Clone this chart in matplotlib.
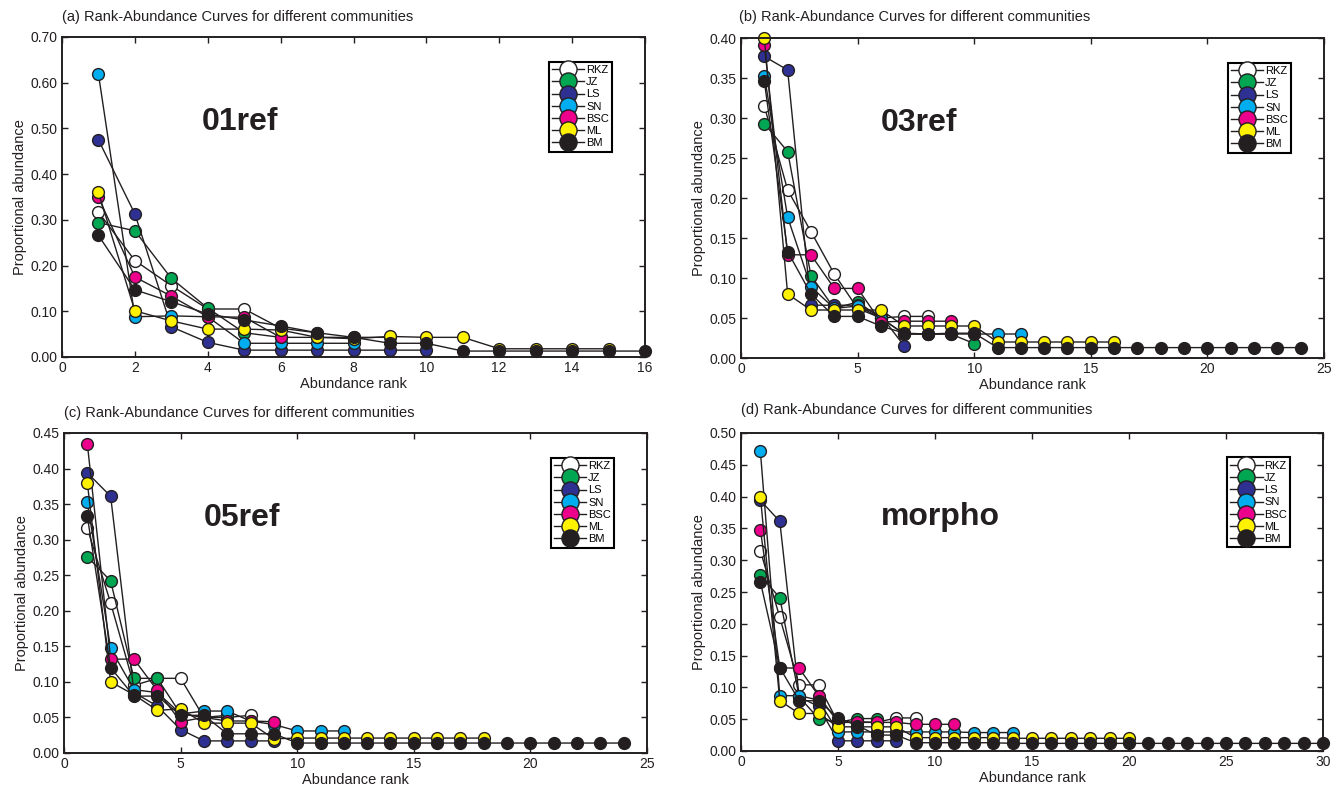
import matplotlib
matplotlib.use("Agg")
import matplotlib.pyplot as plt

plt.rcParams['font.family'] = ['Liberation Sans', 'DejaVu Sans']

W, H = 1342, 791

communities = ["RKZ", "JZ", "LS", "SN", "BSC", "ML", "BM"]
colors = ["#FFFFFF", "#00A651", "#2E3192", "#00AEEF", "#EC008C", "#FFF200", "#231F20"]

# ---- panel (a) 01ref ----
a_RKZ = [0.317, 0.211, 0.156, 0.105, 0.105, 0.063, 0.053]
a_JZ = [0.294, 0.276, 0.172, 0.107, 0.053, 0.043]
a_LS = [0.475, 0.313, 0.066, 0.032, 0.015, 0.015, 0.015, 0.015, 0.015, 0.015]
a_SN = [0.619, 0.088, 0.090, 0.088, 0.030, 0.030, 0.030, 0.030]
a_BSC = [0.349, 0.175, 0.133, 0.088, 0.087, 0.043, 0.043, 0.043, 0.043]
a_ML = [0.360, 0.101, 0.079, 0.061, 0.061, 0.059, 0.043, 0.040, 0.045, 0.043, 0.043,
        0.018, 0.018, 0.018, 0.018]
a_BM = [0.266, 0.147, 0.121, 0.094, 0.081, 0.068, 0.053, 0.043, 0.030, 0.030, 0.013,
        0.013, 0.013, 0.013, 0.013, 0.013]

# ---- panel (b) 03ref ----
b_RKZ = [0.315, 0.210, 0.158, 0.105, 0.062, 0.050, 0.052, 0.052]
b_JZ = [0.293, 0.258, 0.103, 0.062, 0.070, 0.050, 0.030, 0.030, 0.030, 0.018]
b_LS = [0.377, 0.360, 0.066, 0.066, 0.066, 0.053, 0.015]
b_SN = [0.353, 0.176, 0.089, 0.062, 0.065, 0.050, 0.030, 0.030, 0.030, 0.030, 0.030, 0.030]
b_BSC = [0.391, 0.129, 0.129, 0.087, 0.087, 0.045, 0.046, 0.046, 0.046]
b_ML = [0.400, 0.080, 0.060, 0.060, 0.060, 0.060, 0.040, 0.040, 0.040, 0.040, 0.020,
        0.020, 0.020, 0.020, 0.020, 0.020]
b_BM = [0.346, 0.133, 0.080, 0.052, 0.052, 0.040, 0.031, 0.030, 0.031, 0.031, 0.013,
        0.013, 0.013, 0.013, 0.013, 0.013, 0.013, 0.013, 0.013, 0.013, 0.013, 0.013,
        0.013, 0.013]

# ---- panel (c) 05ref ----
c_RKZ = [0.316, 0.211, 0.095, 0.105, 0.105, 0.050, 0.050, 0.053]
c_JZ = [0.276, 0.242, 0.105, 0.105, 0.055, 0.050, 0.053]
c_LS = [0.394, 0.361, 0.085, 0.066, 0.033, 0.017, 0.017, 0.017, 0.017]
c_SN = [0.353, 0.147, 0.089, 0.085, 0.055, 0.059, 0.059, 0.045, 0.040, 0.031, 0.031, 0.031]
c_BSC = [0.435, 0.132, 0.132, 0.088, 0.044, 0.050, 0.045, 0.045, 0.044]
c_ML = [0.380, 0.100, 0.082, 0.060, 0.062, 0.042, 0.042, 0.042, 0.020, 0.021, 0.021,
        0.021, 0.021, 0.021, 0.021, 0.021, 0.021, 0.021]
c_BM = [0.333, 0.120, 0.080, 0.080, 0.053, 0.053, 0.027, 0.027, 0.027, 0.014, 0.014,
        0.014, 0.014, 0.014, 0.014, 0.014, 0.014, 0.014, 0.014, 0.014, 0.014, 0.014,
        0.014, 0.014]

# ---- panel (d) morpho ----
d_RKZ = [0.315, 0.210, 0.104, 0.104, 0.045, 0.045, 0.045, 0.052, 0.052]
d_JZ = [0.276, 0.241, 0.085, 0.051, 0.045, 0.051, 0.051]
d_LS = [0.394, 0.361, 0.085, 0.070, 0.016, 0.016, 0.016, 0.016]
d_SN = [0.471, 0.087, 0.087, 0.080, 0.030, 0.030, 0.030, 0.030, 0.030, 0.030, 0.030,
        0.029, 0.029, 0.029]
d_BSC = [0.348, 0.131, 0.130, 0.087, 0.045, 0.046, 0.045, 0.045, 0.042, 0.042, 0.042]
d_ML = [0.400, 0.079, 0.059, 0.059, 0.038, 0.038, 0.038, 0.038, 0.021, 0.021, 0.021,
        0.021, 0.021, 0.020, 0.020, 0.020, 0.020, 0.020, 0.020, 0.020]
d_BM = [0.266, 0.131, 0.079, 0.079, 0.052, 0.040, 0.025, 0.025, 0.013, 0.013, 0.013,
        0.013, 0.013, 0.012, 0.012, 0.012, 0.012, 0.012, 0.012, 0.012, 0.012, 0.012,
        0.012, 0.012, 0.012, 0.012, 0.012, 0.012, 0.012, 0.012]

panels = [
    dict(series=[a_RKZ, a_JZ, a_LS, a_SN, a_BSC, a_ML, a_BM], name="01ref",
         title="(a) Rank-Abundance Curves for different communities",
         xlim=(0, 16), xticks=list(range(0, 17, 2)),
         ylim=(0, 0.70), yticks=[i * 0.1 for i in range(8)],
         box=(62, 37, 645, 357), title_xy=(62, 17)),
    dict(series=[b_RKZ, b_JZ, b_LS, b_SN, b_BSC, b_ML, b_BM], name="03ref",
         title="(b) Rank-Abundance Curves for different communities",
         xlim=(0, 25), xticks=list(range(0, 26, 5)),
         ylim=(0, 0.40), yticks=[i * 0.05 for i in range(9)],
         box=(741, 38, 1324, 358), title_xy=(739, 17)),
    dict(series=[c_RKZ, c_JZ, c_LS, c_SN, c_BSC, c_ML, c_BM], name="05ref",
         title="(c) Rank-Abundance Curves for different communities",
         xlim=(0, 25), xticks=list(range(0, 26, 5)),
         ylim=(0, 0.45), yticks=[i * 0.05 for i in range(10)],
         box=(64, 433, 647, 753), title_xy=(64, 413)),
    dict(series=[d_RKZ, d_JZ, d_LS, d_SN, d_BSC, d_ML, d_BM], name="morpho",
         title="(d) Rank-Abundance Curves for different communities",
         xlim=(0, 30), xticks=list(range(0, 31, 5)),
         ylim=(0, 0.50), yticks=[i * 0.05 for i in range(11)],
         box=(741, 433, 1323, 751), title_xy=(741, 410)),
]

dark = "#231F20"
fig = plt.figure(figsize=(W / 100, H / 100), dpi=100)

for p in panels:
    l, t, r, b = p["box"]
    ax = fig.add_axes([l / W, 1 - b / H, (r - l) / W, (b - t) / H])
    for vals, lab, col in zip(p["series"], communities, colors):
        ranks = list(range(1, len(vals) + 1))
        ax.plot(ranks, vals, "-o", color=dark, lw=1.0, markersize=8.5,
                markerfacecolor=col, markeredgecolor=dark, markeredgewidth=1.0,
                label=lab, clip_on=False)
    ax.set_xlim(*p["xlim"])
    ax.set_ylim(*p["ylim"])
    ax.set_xticks(p["xticks"])
    ax.set_yticks(p["yticks"])
    ax.set_yticklabels([f"{v:.2f}" for v in p["yticks"]])
    ax.tick_params(direction="in", top=True, right=True, length=4, width=1,
                   labelsize=10, pad=3, colors=dark)
    for s in ax.spines.values():
        s.set_linewidth(1.4)
        s.set_color(dark)
    ax.set_xlabel("Abundance rank", fontsize=10.5, labelpad=1, color=dark)
    ax.set_ylabel("Proportional abundance", fontsize=10.5, labelpad=3, color=dark)
    ax.text(0.24, 0.735, p["name"], transform=ax.transAxes, ha="left", va="center",
            fontsize=23, fontweight="bold", color=dark)
    leg = ax.legend(loc="upper right", bbox_to_anchor=(0.944, 0.923), fontsize=8,
                    markerscale=1.45, handlelength=2.9, handletextpad=0.15,
                    labelspacing=0.2, borderpad=0.3, borderaxespad=0,
                    fancybox=False, framealpha=1, edgecolor="black", numpoints=1)
    leg.get_frame().set_linewidth(1.5)
    fig.text(p["title_xy"][0] / W, 1 - p["title_xy"][1] / H, p["title"],
             ha="left", va="center", fontsize=10.5, color=dark)

fig.savefig("out.png", dpi=100)
